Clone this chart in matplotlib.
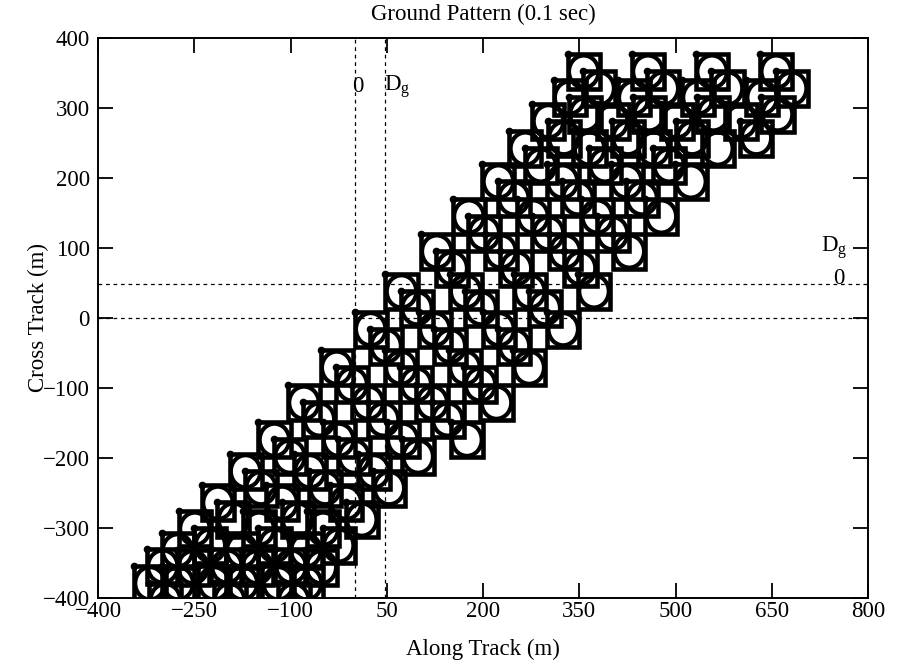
import matplotlib
matplotlib.use("Agg")
import matplotlib.pyplot as plt
from matplotlib.patches import Rectangle, Ellipse

# ---- data (metres) ----
# upper-left corners of the footprints of the first scan stripe
scan_x = [-344, -324, -301, -274, -238, -195, -150, -104, -53, 0, 48, 103, 153, 199, 241, 277, 310, 332]
scan_y = [-354, -330, -307, -276, -239, -194, -149, -96, -46, 9, 63, 120, 170, 220, 267, 306, 340, 377]
# along-track offsets of the parallel stripes
stripe_dx = [0, 100, 200, 300]
# first scan index drawn in each stripe, for the first and second detector
first_det1 = [0, 0, 0, 6]
first_det2 = [0, 0, 0, 15]
# second detector offset relative to the first
det2_dx = 24
det2_dy = -24
D_g = 48          # footprint size (dashed guide lines)
foot = 50
x_ticks = [-400, -250, -100, 50, 200, 350, 500, 650, 800]
y_ticks = [-400, -300, -200, -100, 0, 100, 200, 300, 400]

plt.rcParams['font.family'] = ['Liberation Serif', 'DejaVu Serif']
plt.rcParams['mathtext.fontset'] = 'stix'

fig = plt.figure(figsize=(8.97, 6.71), dpi=100)
ax = fig.add_axes([98/897, 73/671, 770/897, 560/671])


def footprint(x, y):
    ax.add_patch(Rectangle((x, y - foot), foot, foot, fill=False,
                           ec='black', lw=3.3, zorder=3))
    ax.add_patch(Ellipse((x + foot/2, y - foot/2), foot*0.92, foot*0.92,
                         fill=False, ec='black', lw=3.0, zorder=3))
    ax.plot([x], [y], 'o', color='black', ms=4.5, zorder=4)


pts = list(zip(scan_x, scan_y))
for sdx, k1, k2 in zip(stripe_dx, first_det1, first_det2):
    for x0, y0 in pts[k1:]:
        footprint(x0 + sdx, y0)
    for x0, y0 in pts[k2:]:
        footprint(x0 + sdx + det2_dx, y0 + det2_dy)

ls = (0, (3, 3))
for v in [0, D_g]:
    ax.axvline(v, color='black', lw=0.9, ls=ls, zorder=1)
    ax.axhline(v, color='black', lw=0.9, ls=ls, zorder=1)

fs = 16.5
ax.text(5, 331, '0', fontsize=fs, ha='center', va='center')
ax.text(67, 331, r'D$_\mathregular{g}$', fontsize=fs, ha='center', va='center')
ax.text(748, 100, r'D$_\mathregular{g}$', fontsize=fs, ha='center', va='center')
ax.text(755, 56, '0', fontsize=fs, ha='center', va='center')

ax.set_xlim(-400, 800)
ax.set_ylim(-400, 400)
ax.set_xticks(x_ticks)
ax.set_yticks(y_ticks)
ax.set_xticklabels([str(t).replace('-', '\u2212') for t in x_ticks])
ax.set_yticklabels([str(t).replace('-', '\u2212') for t in y_ticks])
ax.tick_params(direction='in', length=11, width=1.3, top=True, right=True,
               labelsize=fs)
ax.tick_params(axis='x', pad=2)
ax.tick_params(axis='y', pad=6)
for s in ax.spines.values():
    s.set_linewidth(1.4)
ax.set_xlabel('Along Track (m)', fontsize=fs, labelpad=12)
ax.set_ylabel('Cross Track (m)', fontsize=fs, labelpad=-5)
ax.set_title('Ground Pattern (0.1 sec)', fontsize=fs, pad=13)

fig.savefig('out.png', dpi=100)
